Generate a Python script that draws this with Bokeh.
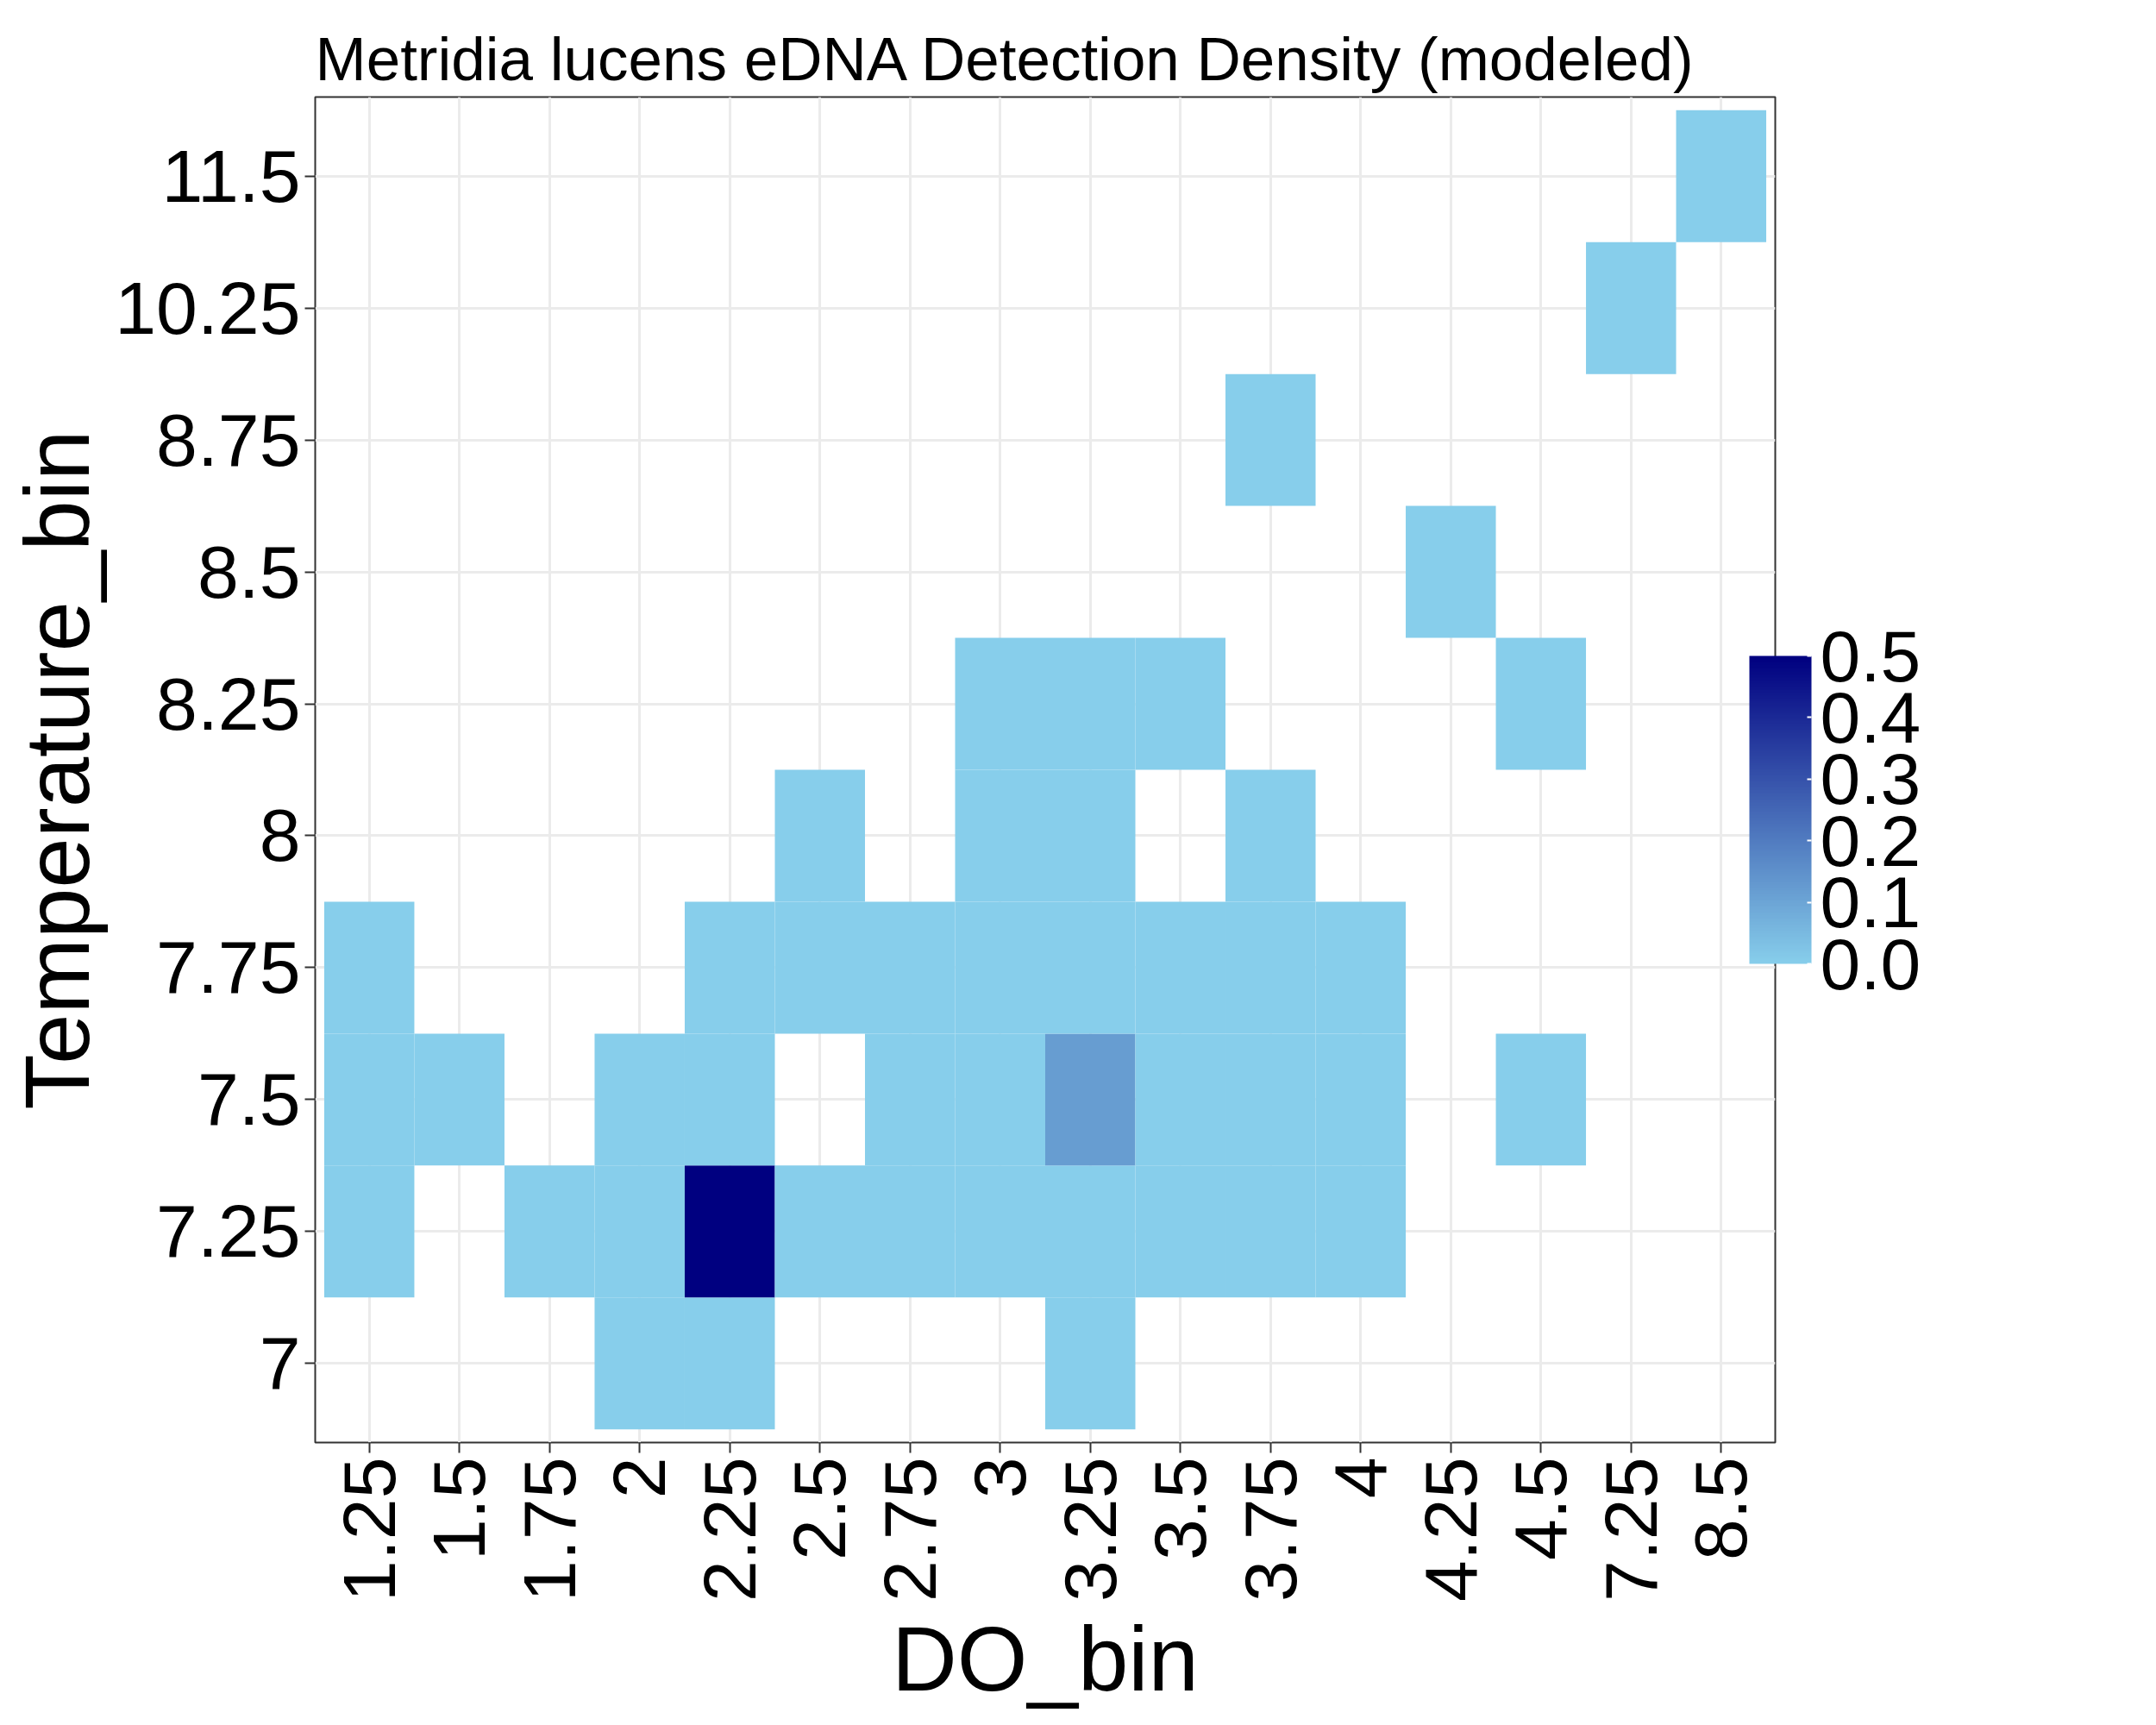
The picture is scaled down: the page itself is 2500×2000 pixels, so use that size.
from bokeh.plotting import figure
from bokeh.models import (ColumnDataSource, LinearColorMapper, ColorBar, Range1d,
                          FixedTicker, PrintfTickFormatter, Label)
from bokeh.embed import file_html
from bokeh.resources import INLINE

do_bins = ["1.25", "1.5", "1.75", "2", "2.25", "2.5", "2.75", "3", "3.25", "3.5",
           "3.75", "4", "4.25", "4.5", "7.25", "8.5"]
temp_bins = ["7", "7.25", "7.5", "7.75", "8", "8.25", "8.5", "8.75", "10.25", "11.5"]

cell_do = ["2", "2.25", "3.25",
           "1.25", "1.75", "2", "2.25", "2.5", "2.75", "3", "3.25", "3.5", "3.75", "4",
           "1.25", "1.5", "2", "2.25", "2.75", "3", "3.25", "3.5", "3.75", "4", "4.5",
           "1.25", "2.25", "2.5", "2.75", "3", "3.25", "3.5", "3.75", "4",
           "2.5", "3", "3.25", "3.75",
           "3", "3.25", "3.5", "4.5",
           "4.25", "3.75", "7.25", "8.5"]
cell_temp = ["7"] * 3 + ["7.25"] * 11 + ["7.5"] * 11 + ["7.75"] * 9 + ["8"] * 4 + \
            ["8.25"] * 4 + ["8.5", "8.75", "10.25", "11.5"]
detected = [0.0] * len(cell_do)
detected[6] = 0.5          # 2.25 / 7.25
detected[20] = 0.12        # 3.25 / 7.5

def lerp(a, b, t):
    return "#%02x%02x%02x" % tuple(int(round(a[i] + (b[i] - a[i]) * t)) for i in range(3))

palette = [lerp((135, 206, 235), (0, 0, 128), i / 255) for i in range(256)]
mapper = LinearColorMapper(palette=palette, low=0, high=0.5)

src = ColumnDataSource(dict(x=[do_bins.index(v) for v in cell_do],
                            y=[temp_bins.index(v) for v in cell_temp],
                            d=detected))

FONT = "Liberation Sans"
p = figure(width=2480, height=1984, output_backend="svg", toolbar_location=None,
           x_range=Range1d(-0.6, len(do_bins) - 0.4), y_range=Range1d(-0.6, len(temp_bins) - 0.4),
           title="Metridia lucens eDNA Detection Density (modeled)")
p.min_border_left = 365
p.min_border_right = 422
p.min_border_top = 112
p.min_border_bottom = 299
p.title.text_font = FONT
p.title.text_font_size = "71px"
p.title.text_font_style = "normal"
p.title.text_color = "black"

p.rect(x="x", y="y", width=1, height=1, source=src, line_color=None,
       fill_color={"field": "d", "transform": mapper})

for ax, ticks, labels in ((p.xaxis, range(len(do_bins)), do_bins),
                          (p.yaxis, range(len(temp_bins)), temp_bins)):
    ax.ticker = FixedTicker(ticks=list(ticks))
    ax.major_label_overrides = {i: l for i, l in zip(ticks, labels)}
    ax.minor_tick_line_color = None
    ax.major_tick_out = 12
    ax.major_tick_in = 0
    ax.major_tick_line_color = "#333333"
    ax.major_tick_line_width = 2
    ax.axis_line_color = None
    ax.major_label_text_font = FONT
    ax.major_label_text_font_size = "86px"
    ax.major_label_text_color = "black"
    ax.axis_label_text_font = FONT
    ax.axis_label_text_font_size = "105px"
    ax.axis_label_text_font_style = "normal"
    ax.axis_label_text_color = "black"
p.xaxis.axis_label = "DO_bin"
p.yaxis.axis_label = "Temperature_bin"
p.xaxis.major_label_orientation = 1.5708

p.grid.grid_line_color = "#ebebeb"
p.grid.grid_line_width = 3
p.outline_line_color = "#333333"
p.outline_line_width = 2

cb = ColorBar(color_mapper=mapper, width=72, height=357, location=(-30, 555),
              ticker=FixedTicker(ticks=[0, 0.1, 0.2, 0.3, 0.4, 0.5]),
              formatter=PrintfTickFormatter(format="%.1f"),
              major_label_text_font=FONT, major_label_text_color="black",
              major_label_text_font_size="84px", major_tick_line_color="white",
              major_tick_line_width=2, bar_line_color=None, background_fill_color=None,
              border_line_color=None, padding=0, label_standoff=10)
p.add_layout(cb, "right")
p.add_layout(Label(x=16.27, y=5.5, text="Detected", text_font=FONT,
                   text_font_size="96px", text_color="black"))

open("out.html", "w").write(file_html(p, INLINE))
